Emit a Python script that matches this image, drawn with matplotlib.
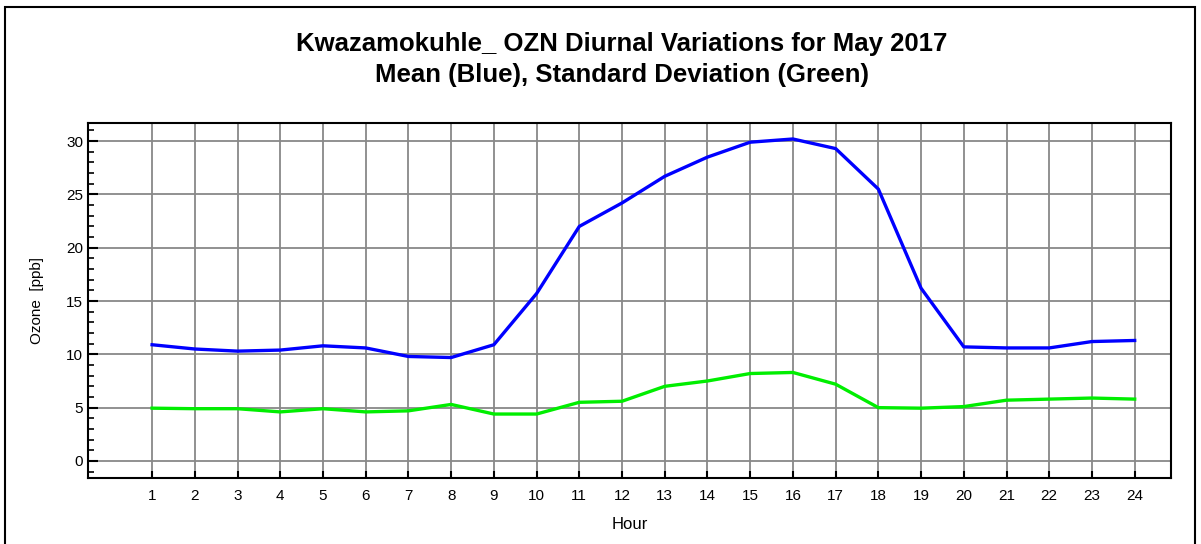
import matplotlib
matplotlib.use("Agg")
import matplotlib.pyplot as plt
from matplotlib.patches import Rectangle
from matplotlib.ticker import MultipleLocator

plt.rcParams['font.family'] = ['Liberation Sans', 'DejaVu Sans']

hours = list(range(1, 25))
mean_ozn = [10.9, 10.5, 10.3, 10.4, 10.8, 10.6, 9.8, 9.7, 10.9, 15.7, 22.0, 24.2,
            26.7, 28.5, 29.9, 30.2, 29.3, 25.5, 16.2, 10.7, 10.6, 10.6, 11.2, 11.3]
std_ozn = [4.95, 4.9, 4.9, 4.6, 4.9, 4.6, 4.7, 5.3, 4.4, 4.4, 5.5, 5.6,
           7.0, 7.5, 8.2, 8.3, 7.2, 5.0, 4.95, 5.1, 5.7, 5.8, 5.9, 5.8]

fig = plt.figure(figsize=(12.01, 5.44), dpi=100)
ax = fig.add_axes([88/1201, 1 - 478/544, (1171-88)/1201, (478-123)/544])

# outer frame
fig.patches.append(Rectangle((5/1201, -0.1), 1190/1201, 1.1 - 7/544, transform=fig.transFigure,
                             fill=False, edgecolor='black', linewidth=1.5))

ax.plot(hours, mean_ozn, color='#0000ff', linewidth=2.4, zorder=3)
ax.plot(hours, std_ozn, color='#00ee00', linewidth=2.4, zorder=3)

ax.set_xlim(-0.5, 24.85)
ax.set_ylim(-1.6, 31.7)
ax.set_xticks(hours)
ax.yaxis.set_major_locator(MultipleLocator(5))
ax.yaxis.set_minor_locator(MultipleLocator(1))
ax.grid(True, which='major', color='#888888', linewidth=1.3)
ax.tick_params(axis='both', which='major', direction='in', length=7, width=1.5,
               labelsize=11, colors='black')
ax.tick_params(axis='y', which='minor', direction='in', length=4, width=1.2)
ax.tick_params(axis='x', which='major', length=5, pad=8)
for s in ax.spines.values():
    s.set_linewidth(1.5)

ax.set_xlabel('Hour', fontsize=12, labelpad=10)
ax.set_ylabel('Ozone  [ppb]', fontsize=11, labelpad=16)

fig.text(0.518, 1 - 44/544, 'Kwazamokuhle_ OZN Diurnal Variations for May 2017',
         ha='center', va='center', fontsize=18.5, fontweight='bold')
fig.text(0.518, 1 - 75/544, 'Mean (Blue), Standard Deviation (Green)',
         ha='center', va='center', fontsize=18.5, fontweight='bold')

fig.savefig('out.png', dpi=100)
